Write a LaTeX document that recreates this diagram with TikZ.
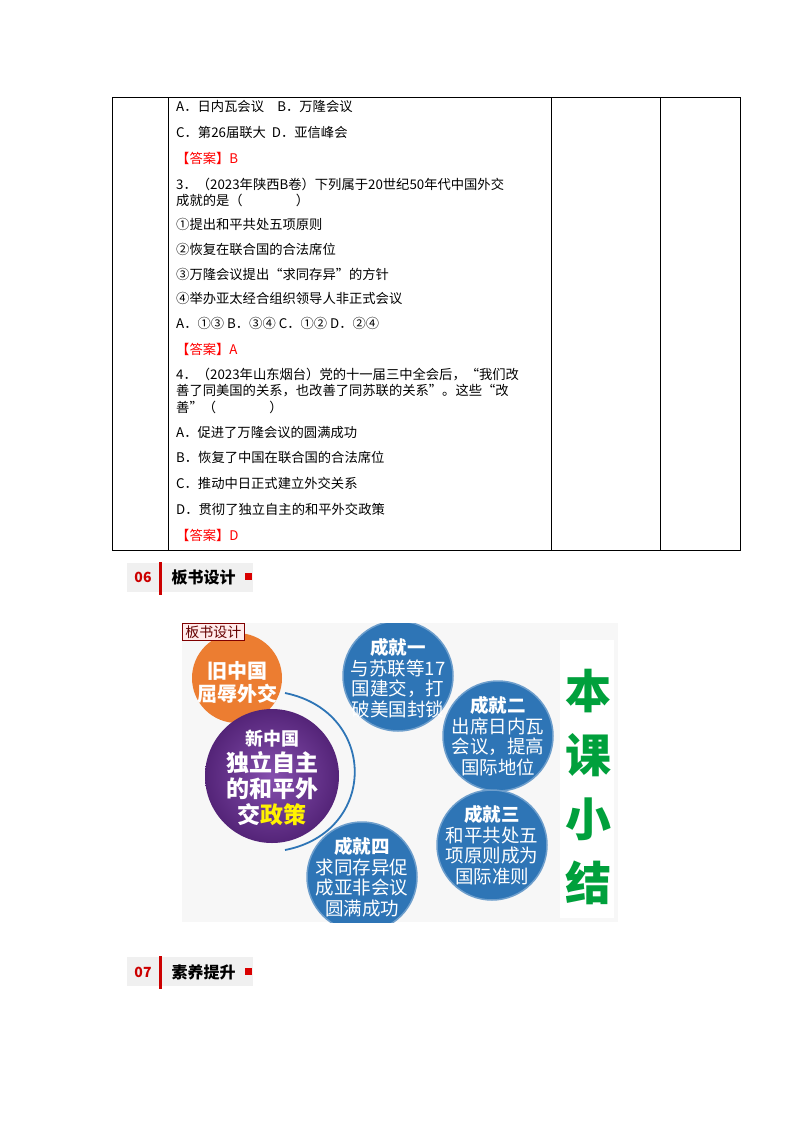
\documentclass[tikz,border=0pt]{standalone}
\usepackage{fontspec}
\setmainfont{Noto Sans CJK SC}
\begin{document}
\begin{tikzpicture}[x=1pt,y=-1pt,
  q/.style={anchor=west,inner sep=0pt,font=\fontsize{13.3}{15}\selectfont},
  ans/.style={q,text=red},
  blue/.style={circle,fill=circblue,draw=circblue!70!white,line width=1.5pt,minimum size=110pt,inner sep=0pt},
  ctxt/.style={text=white,align=center,font=\fontsize{18.5}{20.5}\selectfont,inner sep=0pt},
  hbox/.style={fill=gray!12,draw=none}]
\definecolor{circblue}{RGB}{46,117,182}
\definecolor{circorange}{RGB}{236,125,49}
\definecolor{circpurple}{RGB}{112,48,160}
\definecolor{greenT}{RGB}{0,160,60}
\useasboundingbox (0,0) rectangle (800,1132);
\fill[white] (0,0) rectangle (800,1132);
% table
\draw[line width=0.8pt] (112,97) rectangle (740,550);
\draw[line width=0.8pt] (168,97) -- (168,550) (551,97) -- (551,550) (660,97) -- (660,550);
\node[q] (l1) at (176,106) {A．日内瓦会议\quad B．万隆会议};
\node[q] (l2) at (176,132) {C．第26届联大\ \ D．亚信峰会};
\node[ans] (l3) at (176,158) {【答案】B};
\node[q] (l4) at (176,184) {3．（2023年陕西B卷）下列属于20世纪50年代中国外交};
\node[q] (l5) at (176,200) {成就的是（\hspace{4em}）};
\node[q] (l6) at (176,224) {①提出和平共处五项原则};
\node[q] (l7) at (176,249) {②恢复在联合国的合法席位};
\node[q] (l8) at (176,274) {③万隆会议提出“求同存异”的方针};
\node[q] (l9) at (176,298) {④举办亚太经合组织领导人非正式会议};
\node[q] (l10) at (176,323) {A．①③ B．③④ C．①② D．②④};
\node[ans] (l11) at (176,349) {【答案】A};
\node[q] (l12) at (176,375) {4．（2023年山东烟台）党的十一届三中全会后，“我们改};
\node[q] (l13) at (176,391) {善了同美国的关系，也改善了同苏联的关系”。这些“改};
\node[q] (l14) at (176,407) {善”（\hspace{4em}）};
\node[q] (l15) at (176,432) {A．促进了万隆会议的圆满成功};
\node[q] (l16) at (176,457) {B．恢复了中国在联合国的合法席位};
\node[q] (l17) at (176,483) {C．推动中日正式建立外交关系};
\node[q] (l18) at (176,509) {D．贯彻了独立自主的和平外交政策};
\node[ans] (l19) at (176,535) {【答案】D};
% heading 06
\fill[gray!12] (127,563) rectangle (253,592);
\node[font=\bfseries\fontsize{14}{15}\selectfont,text=red!80!black] (h6n) at (143,577) {06};
\fill[red!80!black] (159,562) rectangle (162,595);
\node[font=\bfseries\fontsize{16}{17}\selectfont,anchor=west] (h6t) at (168,577) {板书设计};
\fill[red!85!black] (245,573) rectangle (252,580);
% heading 07
\fill[gray!12] (127,957) rectangle (253,986);
\node[font=\bfseries\fontsize{14}{15}\selectfont,text=red!80!black] (h7n) at (143,972) {07};
\fill[red!80!black] (159,956) rectangle (162,989);
\node[font=\bfseries\fontsize{16}{17}\selectfont,anchor=west] (h7t) at (168,972) {素养提升};
\fill[red!85!black] (245,968) rectangle (252,975);
% image
\fill[gray!6] (182,623) rectangle (618,922);
\fill[white] (560,640) rectangle (614,918);
\begin{scope}
\clip (182,623) rectangle (618,922);
\node[circle,fill=circorange,minimum size=90pt,inner sep=0pt] (old) at (237,678) {};
\node[ctxt,font=\bfseries\fontsize{20}{23}\selectfont] at (237,682) {旧中国\\屈辱外交};
\coordinate (arcA) at (285,693);
\coordinate (arcB) at (285,850);
\draw[circblue,line width=1.8pt] (arcA) .. controls (378,712) and (378,832) .. (arcB);
\node[blue] (c1) at (398,676) {};
\node[ctxt] at (398,678) {{\bfseries 成就一}\\与苏联等17\\国建交，打\\破美国封锁};
\node[blue] (c2) at (498,736) {};
\node[ctxt] at (498,736) {{\bfseries 成就二}\\出席日内瓦\\会议，提高\\国际地位};
\node[blue] (c3) at (492,845) {};
\node[ctxt] at (492,845) {{\bfseries 成就三}\\和平共处五\\项原则成为\\国际准则};
\node[blue] (c4) at (362,877) {};
\node[ctxt] at (362,877) {{\bfseries 成就四}\\求同存异促\\成亚非会议\\圆满成功};
\node[circle,inner sep=0pt,minimum size=134pt,shading=radial,inner color=circpurple!85!white,outer color=circpurple!75!black] (new) at (272,776) {};
\node[ctxt,font=\bfseries\fontsize{23}{26}\selectfont] at (272,778) {{\fontsize{18}{21}\selectfont 新中国}\\独立自主\\的和平外\\交\textcolor{yellow}{政策}};
\end{scope}
\node[draw=red!50!black,fill=red!8,line width=0.8pt,inner xsep=3pt,inner ysep=2pt,anchor=north west,font=\fontsize{14}{15}\selectfont,text=red!40!black] (lab) at (182,623) {板书设计};
\node[text=greenT,font=\bfseries\fontsize{46}{64}\selectfont,align=center] (sum) at (588,787) {本\\课\\小\\结};
\end{tikzpicture}
\end{document}
